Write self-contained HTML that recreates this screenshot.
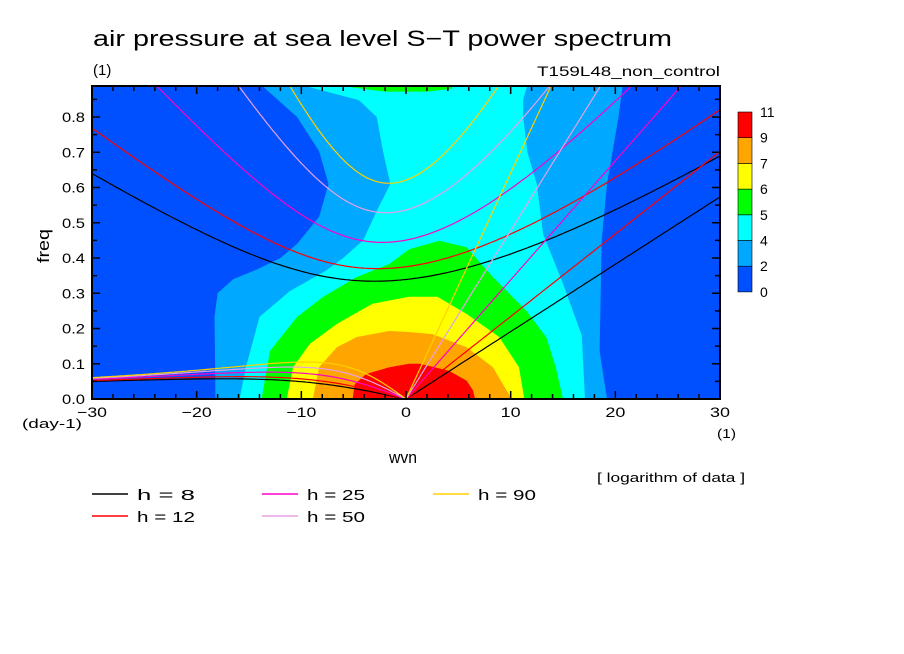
<!DOCTYPE html>
<html><head><meta charset="utf-8"><style>
body{margin:0;background:#fff;}
svg{display:block;font-family:"Liberation Sans",sans-serif;}
</style></head><body>
<svg id="chart" width="904" height="654" viewBox="0 0 904 654" xmlns="http://www.w3.org/2000/svg">
<defs><clipPath id="plotclip"><rect x="92" y="86" width="628" height="313"/></clipPath></defs>
<text x="93" y="46" font-size="22" textLength="579" lengthAdjust="spacingAndGlyphs">air pressure at sea level S−T power spectrum</text>
<text x="93" y="75" font-size="15">(1)</text>
<text x="720" y="76" font-size="14" text-anchor="end" textLength="183" lengthAdjust="spacingAndGlyphs">T159L48_non_control</text>
<g id="plot" clip-path="url(#plotclip)">
<rect x="92" y="86" width="628" height="313" fill="#0050ff"/>
<g id="fills"></g><g id="curves"></g>
</g>
<rect x="92" y="86" width="628" height="313" fill="none" stroke="#000" stroke-width="2"/>
<g id="ticks"></g>
<text x="49" y="246" font-size="17" text-anchor="middle" transform="rotate(-90 49 246)" textLength="34" lengthAdjust="spacingAndGlyphs">freq</text>
<text x="22" y="428" font-size="13" textLength="60" lengthAdjust="spacingAndGlyphs">(day-1)</text>
<text x="403" y="463" font-size="17" text-anchor="middle" textLength="28" lengthAdjust="spacingAndGlyphs">wvn</text>
<text x="717" y="438" font-size="13" textLength="19" lengthAdjust="spacingAndGlyphs">(1)</text>
<text x="597" y="482" font-size="13" textLength="148" lengthAdjust="spacingAndGlyphs">[ logarithm of data ]</text>
<g id="colorbar"></g>
<g id="legend"></g>
</svg>
<script>
const NS="http://www.w3.org/2000/svg";
const xTicks=[-30,-20,-10,0,10,20,30];
const yTicks=[0,0.1,0.2,0.3,0.4,0.5,0.6,0.7,0.8];
const depths=[8,12,25,50,90];
const depthColors=["#000000","#ff0000","#ff00c8","#e6a0e6","#ffd000"];
const cbLevels=[0,2,4,5,6,7,9,11];
const cbColors=["#0050ff","#00a8ff","#00ffff","#00ff00","#ffff00","#ffa500","#ff0000"];
// contour regions [wavenumber, freq]
const lev2=[[-18.2,-0.02],[-18.2,0],[-18.3,0.233],[-18.0,0.30],[-16.5,0.34],[-14.2,0.368],[-12,0.40],[-10.4,0.44],[-8.3,0.517],[-7.4,0.61],[-8.3,0.703],[-10.4,0.8],[-13.8,0.89],[-14.5,0.92],[21,0.92],[20.7,0.89],[20.3,0.8],[19.2,0.61],[18.7,0.45],[18.5,0.136],[19.2,0],[19.2,-0.02]];
const lev4=[[-15.9,-0.02],[-15.9,0],[-15.3,0.09],[-14,0.233],[-11.1,0.306],[-7.7,0.363],[-6.0,0.40],[-4.1,0.45],[-2.8,0.533],[-1.5,0.61],[-2.2,0.703],[-2.8,0.8],[-4.5,0.848],[-9.9,0.89],[-10,0.92],[11.6,0.92],[11.6,0.89],[11.2,0.85],[11.2,0.8],[11.6,0.70],[12.5,0.61],[13.1,0.468],[15.0,0.327],[16.8,0.18],[17.1,0],[17.1,-0.02]];
const lev5=[[-13.8,-0.02],[-13.8,0],[-13.0,0.136],[-10.4,0.233],[-7.9,0.29],[-4.7,0.346],[-1.6,0.383],[-0.6,0.405],[0.3,0.425],[3.2,0.449],[5.8,0.43],[8.3,0.346],[11.5,0.25],[13.4,0.175],[14.3,0.09],[15.0,0],[15.0,-0.02]];
const lev5top=[[-5.4,0.92],[-5.4,0.885],[-2,0.872],[2,0.872],[4.4,0.88],[4.4,0.92]];
const lev6=[[-11.4,-0.02],[-11.4,0],[-10.8,0.09],[-9.2,0.156],[-6.6,0.213],[-3.2,0.27],[0.3,0.29],[3,0.29],[5.8,0.241],[8.9,0.176],[10.8,0.09],[11.3,0],[11.3,-0.02]];
const lev7=[[-8.9,-0.02],[-8.9,0],[-8.3,0.09],[-6.6,0.147],[-4.7,0.176],[-1.6,0.193],[0.3,0.19],[2.5,0.184],[5.8,0.147],[8.3,0.09],[10.1,0],[10.1,-0.02]];
const lev9=[[-5.1,-0.02],[-5.1,0],[-4.9,0.042],[-3.8,0.071],[-1.6,0.09],[0.3,0.10],[1.3,0.1],[4.1,0.08],[5.8,0.052],[6.4,0.024],[6.6,0],[6.6,-0.02]];
const regions=[[lev2,1,"level-2-region"],[lev4,2,"level-4-region"],[lev5,3,"level-5-region"],[lev5top,3,"level-5-top-region"],[lev6,4,"level-6-region"],[lev7,5,"level-7-region"],[lev9,6,"level-9-region"]];

const X0=92,X1=720,Y0=399,Y1=86;
const sx=s=>X0+(s+30)/60*(X1-X0);
const sy=f=>Y0-f*352.5;
function el(tag,attrs,parent){const e=document.createElementNS(NS,tag);for(const k in attrs)e.setAttribute(k,attrs[k]);parent.appendChild(e);return e;}

const fills=document.getElementById('fills');
regions.forEach(r=>{
  const p=el('polygon',{points:r[0].map(q=>sx(q[0]).toFixed(1)+","+sy(q[1]).toFixed(1)).join(" "),fill:cbColors[r[1]]},fills);
  
  
});

// equatorial wave dispersion curves
const a=6.371e6,Om=7.292e-5,beta=2*Om/a,g=9.8,toCpd=86400/(2*Math.PI);
function roots(s,h,n){
  const c=Math.sqrt(g*h),k=s/a,A=k*k+(2*n+1)*beta/c;
  const f=w=>w*w*w/(c*c)-A*w-beta*k;
  const wm=Math.sqrt(A/3)*c;
  function bis(lo,hi){let flo=f(lo);for(let i=0;i<80;i++){const m=(lo+hi)/2,fm=f(m);if((fm>0)===(flo>0)){lo=m;flo=fm;}else hi=m;}return (lo+hi)/2;}
  const ig=bis(wm,wm*10+1e-3);
  const er=k<0?bis(0,wm):0;
  return {ig:ig*toCpd,er:er*toCpd,kel:c*k*toCpd};
}
const curves=document.getElementById('curves');
depths.forEach((h,i)=>{
  const ig=[],er=[],kel=[];
  for(let s=-30;s<=30.001;s+=0.25){
    const r=roots(s,h,1);
    ig.push([s,r.ig]);
    if(s<=0)er.push([s,r.er]);
    if(s>=0)kel.push([s,r.kel]);
  }
  [[ig,'ig'],[er,'er'],[kel,'kelvin']].forEach(pp=>{
    const pl=el('polyline',{points:pp[0].map(q=>sx(q[0]).toFixed(1)+","+Math.max(-50,sy(q[1])).toFixed(1)).join(" "),fill:'none',stroke:depthColors[i],'stroke-width':1.2},curves);
    
    
  });
});

// ticks
const tk=document.getElementById('ticks');
for(let s=-30;s<=30;s+=2){const L=(s%10===0)?8:5;
  el('line',{x1:sx(s),x2:sx(s),y1:Y0,y2:Y0-L,stroke:'#000','stroke-width':1.5},tk);
  el('line',{x1:sx(s),x2:sx(s),y1:Y1,y2:Y1+L,stroke:'#000','stroke-width':1.5},tk);}
for(let j=0;j<=17;j++){const f=j*0.05,L=(j%2===0)?8:5;
  el('line',{x1:X0,x2:X0+L,y1:sy(f),y2:sy(f),stroke:'#000','stroke-width':1.5},tk);
  el('line',{x1:X1,x2:X1-L,y1:sy(f),y2:sy(f),stroke:'#000','stroke-width':1.5},tk);}
xTicks.forEach(v=>{const lab=(v<0?'−'+(-v):String(v));
  const t=el('text',{x:sx(v),y:417,'font-size':14,'text-anchor':'middle',textLength:(lab.length*10),lengthAdjust:'spacingAndGlyphs'},tk);t.textContent=lab;
  
  });
yTicks.forEach(v=>{const t=el('text',{x:85,y:sy(v)+5,'font-size':14,'text-anchor':'end',textLength:23,lengthAdjust:'spacingAndGlyphs'},tk);t.textContent=v.toFixed(1);
  
  });

// colorbar
const cb=document.getElementById('colorbar');
const cbTop=112,cbStep=25.7;
for(let i=0;i<cbColors.length;i++){
  const r=el('rect',{x:738,y:cbTop+(cbColors.length-1-i)*cbStep,width:14,height:cbStep,fill:cbColors[i],stroke:'#000','stroke-width':0.6},cb);
  
  
}
cbLevels.forEach((v,i)=>{const t=el('text',{x:760,y:cbTop+(cbLevels.length-1-i)*cbStep+5,'font-size':14},cb);t.textContent=v;
  
  });

// legend
const lg=document.getElementById('legend');
const lpos=[[92,494],[92,516],[262,494],[262,516],[433,494]];
depths.forEach((h,i)=>{
  const [x,y]=lpos[i];
  const ln=el('line',{x1:x,x2:x+36,y1:y,y2:y,stroke:depthColors[i],'stroke-width':1.5},lg);
  
  
  const t=el('text',{x:x+45,y:y+6,'font-size':15,'xml:space':'preserve',textLength:58,lengthAdjust:'spacingAndGlyphs'},lg);
  t.textContent='h = '+(h<10?' '+h:h);
  
  
});
</script>
</body></html>
